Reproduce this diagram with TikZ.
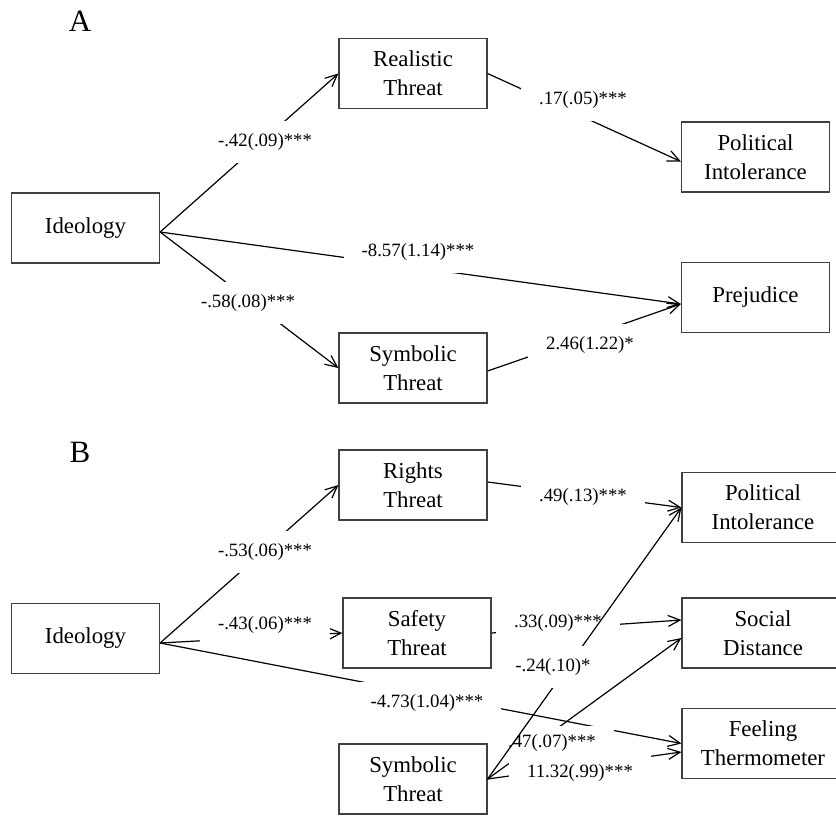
\documentclass[tikz,border=0pt]{standalone}
\usepackage{fontspec}
\setmainfont{Liberation Serif}
\usetikzlibrary{arrows.meta}

\begin{document}
\begin{tikzpicture}[x=0.5pt, y=-0.5pt,
    var/.style={draw=black!75, line width=0.6pt, minimum width=74pt, minimum height=35pt,
      inner sep=0pt, align=center, font=\fontsize{11.4}{14.5}\selectfont},
    wide/.style={var, minimum width=81pt},
    coef/.style={fill=white, inner xsep=9pt, inner ysep=6pt, font=\fontsize{9.4}{11}\selectfont},
    panel/.style={font=\fontsize{15.5}{18}\selectfont},
    arr/.style={line width=0.6pt, -{Straight Barb[length=6pt,width=5.5pt]}}]
  \clip (0,0) rectangle (836,816);
  \draw
    (80,21) node[panel] (pa){A}
    (85.5,228) node[var] (ideoA){Ideology}
    (413,73.5) node[var] (realA){Realistic\\Threat}
    (413,368) node[var] (symA){Symbolic\\Threat}
    (755.5,157) node[var] (polA){Political\\Intolerance}
    (755.5,297.5) node[var] (prej){Prejudice}
    (80,452) node[panel] (pb){B}
    (85.5,638.5) node[var] (ideoB){Ideology}
    (413,485) node[var] (rights){Rights\\Threat}
    (417,633) node[var] (safety){Safety\\Threat}
    (413,779) node[var] (symB){Symbolic\\Threat}
    (763,507.5) node[wide] (polB){Political\\Intolerance}
    (763,633) node[wide] (social){Social\\Distance}
    (763,743.5) node[wide] (feel){Feeling\\Thermometer};
  \coordinate (ia) at ([yshift=-2pt]ideoA.east);
  \coordinate (ib) at ([yshift=-2.25pt]ideoB.east);
  \begin{scope}[arr]
    \draw (ia) to (realA.west);
    \draw (ia) to (symA.west);
    \draw (ia) to ([yshift=-3.25pt]prej.west);
    \draw (realA.east) to ([yshift=-2.25pt]polA.west);
    \draw ([yshift=-1.5pt]symA.east) to ([yshift=-3.25pt]prej.west);
    \draw (ib) to (rights.west);
    \draw (ib) to (safety.west);
    \draw (ib) to (feel.west);
    \draw ([yshift=1.5pt]rights.east) to (polB.west);
    \draw (safety.east) to ([yshift=6.5pt]social.west);
    \draw (symB.east) to ([yshift=-2.5pt]social.west);
    \draw (symB.east) to ([yshift=-4.25pt]feel.west);
  \end{scope}
  \node[coef] (c42) at (265,142) {-.42(.09)***};
  \node[coef] (c58) at (248,303) {-.58(.08)***};
  \node[coef] (c857) at (418,252) {-8.57(1.14)***};
  \node[coef] (c17) at (583,100) {.17(.05)***};
  \node[coef] (c246) at (590,345) {2.46(1.22)*};
  \node[coef] (c53) at (265,552) {-.53(.06)***};
  \node[coef, anchor=base, inner ysep=2pt, text depth=6pt] (c43) at (265,629) {-.43(.06)***};
  \node[coef] (c473) at (427,703) {-4.73(1.04)***};
  \node[coef] (c49) at (583,497) {.49(.13)***};
  \node[coef] (c33) at (558,623) {.33(.09)***};
  \node[coef, inner ysep=4pt] (c47) at (552,743) {.47(.07)***};
  \node[coef] (c1132) at (580,773) {11.32(.99)***};
  \draw[arr] (symB.east) to (polB.west);
  \node[coef] (c24) at (553,667) {-.24(.10)*};
\end{tikzpicture}
\end{document}
